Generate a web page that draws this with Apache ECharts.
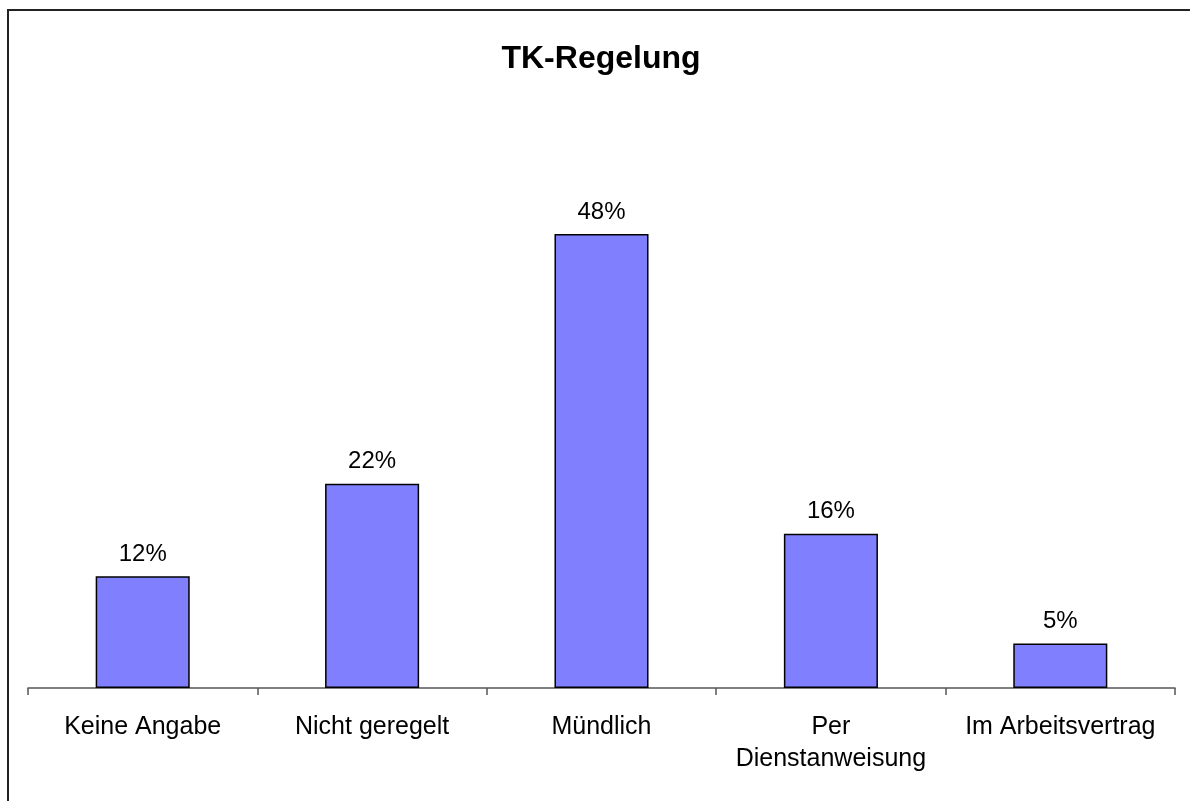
<!DOCTYPE html>
<html>
<head>
<meta charset="utf-8">
<script src="https://cdn.jsdelivr.net/npm/echarts@6/dist/echarts.min.js"></script>
<style>
  html, body { margin: 0; padding: 0; background: #fff; }
  .frame {
    position: absolute; left: 7px; top: 9px; width: 1183px; height: 792px;
    border-top: 2px solid #222; border-left: 2px solid #222;
    box-sizing: border-box;
  }
  #main { position: absolute; left: 0; top: 0; width: 1190px; height: 801px; }
</style>
</head>
<body>
<div class="frame"></div>
<div id="main"></div>
<script>
  // Kategorien und Werte (in %)
  var categories = ['Keine Angabe', 'Nicht geregelt', 'Mündlich', 'Per\nDienstanweisung', 'Im Arbeitsvertrag'];
  var values = [11.8, 21.6, 48.0, 16.3, 4.7];

  var myChart = echarts.init(document.getElementById('main'));
  var option = {
    animation: false,
    title: {
      text: 'TK-Regelung',
      left: 596,
      top: 38,
      textAlign: 'center',
      textStyle: { fontFamily: 'Liberation Sans', fontSize: 32, fontWeight: 'bold', color: '#000' }
    },
    grid: { left: 28, right: 15, top: 215, bottom: 113, containLabel: false },
    xAxis: {
      type: 'category',
      data: categories,
      axisLine: { lineStyle: { color: '#555', width: 1.5 } },
      axisTick: { show: true, length: 7, lineStyle: { color: '#555', width: 1.5 } },
      axisLabel: {
        margin: 23,
        interval: 0,
        color: '#000',
        fontFamily: 'Liberation Sans',
        fontSize: 25,
        lineHeight: 32
      }
    },
    yAxis: {
      type: 'value',
      min: 0,
      max: 50,
      show: false
    },
    series: [{
      type: 'bar',
      data: values,
      barWidth: '41%',
      itemStyle: { color: '#8080ff', borderColor: '#000', borderWidth: 1.5 },
      label: {
        show: true,
        position: 'top',
        distance: 10,
        color: '#000',
        fontFamily: 'Liberation Sans',
        fontSize: 24,
        formatter: function (p) { return Math.round(p.value) + '%'; }
      }
    }]
  };
  myChart.setOption(option);
</script>
</body>
</html>
